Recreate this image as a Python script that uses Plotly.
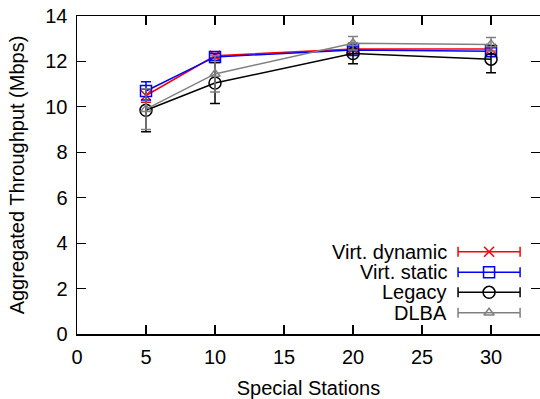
import plotly.graph_objects as go

stations = [5, 10, 20, 30]

series_names = ["Virt. dynamic", "Virt. static", "Legacy", "DLBA"]
virt_dynamic = [10.5, 12.25, 12.55, 12.55]
virt_dynamic_err = [0.3, 0.1, 0.1, 0.1]
virt_static = [10.7, 12.2, 12.5, 12.45]
virt_static_err = [0.4, 0.15, 0.15, 0.15]
legacy = [9.85, 11.05, 12.35, 12.1]
legacy_err = [0.95, 0.9, 0.45, 0.6]
dlba = [9.9, 11.45, 12.8, 12.75]
dlba_err = [0.9, 0.8, 0.3, 0.3]

x_ticks = [0, 5, 10, 15, 20, 25, 30]
y_ticks = [0, 2, 4, 6, 8, 10, 12, 14]

colors = ["#ff0000", "#0000ff", "#000000", "#808080"]
symbols = ["x-thin-open", "square-open", "circle-open", "triangle-up-open"]
sizes = [10, 11, 12, 9]
values = [virt_dynamic, virt_static, legacy, dlba]
errors = [virt_dynamic_err, virt_static_err, legacy_err, dlba_err]

FONT = "Liberation Sans, Arial, Helvetica, sans-serif"
FS = 20

fig = go.Figure()
for name, ys, es, c, s, sz in zip(series_names, values, errors, colors, symbols, sizes):
    fig.add_trace(go.Scatter(
        x=stations, y=ys, name=name, mode="lines+markers",
        line=dict(color=c, width=1.5),
        marker=dict(symbol=s, size=sz, color=c, line=dict(color=c, width=1.5)),
        error_y=dict(type="data", array=es, visible=True, color=c, thickness=1.5, width=5),
        showlegend=False,
    ))

# gnuplot-style key: text on the left, sample (line with error caps) on the right
row_y = [0.2586, 0.1938, 0.131, 0.0669]
for name, c, s, sz, ry in zip(series_names, colors, symbols, sizes, row_y):
    fig.add_trace(go.Scatter(
        x=[0.890], y=[ry], mode="markers", xaxis="x2", yaxis="y2",
        marker=dict(symbol=s, size=sz, color=c, line=dict(color=c, width=1.5)),
        error_x=dict(type="constant", value=0.067, visible=True, color=c, thickness=1.5, width=5),
        showlegend=False, hoverinfo="skip",
    ))
    fig.add_annotation(x=0.803, y=ry, xref="x2", yref="y2", text=name, showarrow=False,
                       xanchor="right", yanchor="middle",
                       font=dict(family=FONT, size=FS, color="black"))

axis_common = dict(
    showline=True, linecolor="black", linewidth=1.5, mirror="ticks",
    ticks="inside", ticklen=9, tickwidth=1.2, tickcolor="black",
    showgrid=False, zeroline=False, automargin=False,
    tickfont=dict(family=FONT, size=FS, color="black"),
)

fig.update_layout(
    width=540, height=399,
    margin=dict(l=77, r=0, t=16, b=65, autoexpand=False),
    paper_bgcolor="white", plot_bgcolor="white",
    xaxis=dict(range=[0, 33.55], tickvals=x_ticks, ticklabelstandoff=4,
               title=dict(text="Special Stations", font=dict(family=FONT, size=FS, color="black"), standoff=14),
               **axis_common),
    yaxis=dict(range=[0, 14], tickvals=y_ticks, ticklabelstandoff=4,
               title=dict(text="Aggregated Throughput (Mbps)", font=dict(family=FONT, size=FS, color="black"), standoff=15),
               **axis_common),
    xaxis2=dict(overlaying="x", range=[0, 1], visible=False, fixedrange=True),
    yaxis2=dict(overlaying="y", range=[0, 1], visible=False, fixedrange=True),
    font=dict(family=FONT),
)

fig.write_html(
    "out.html",
    config={"displayModeBar": False, "staticPlot": True},
    post_script="document.body.style.margin='0';document.body.style.overflow='hidden';",
)
